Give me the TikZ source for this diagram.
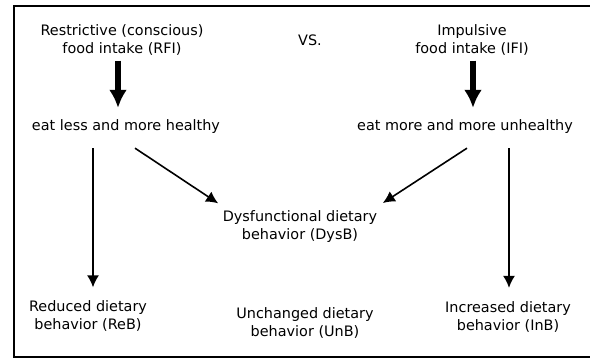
\documentclass[tikz,border=0pt]{standalone}
\usepackage{fontspec}
\setmainfont{DejaVu Sans}
\usepackage{tikz}
\usetikzlibrary{arrows.meta, positioning}

\begin{document}
\begin{tikzpicture}[x=1pt, y=1pt, >={Latex[length=12pt,width=12pt]},
    every node/.style={font=\fontsize{14.4}{18}\selectfont, align=center, inner sep=0pt},
    thinarrow/.style={->, line width=1.6pt},
    bigarrow/.style={-{Latex[length=18pt,width=18pt]}, line width=6pt}]
    \useasboundingbox (0,0) rectangle (590,358);
    \draw[line width=2pt] (592,352) -| (14.3,1) -- (592,1);

    \node (rfi) at (122,318) {Restrictive (conscious)\\food intake (RFI)};
    \node (vs) at (310,318) {VS.};
    \node (ifi) at (472,318) {Impulsive\\food intake (IFI)};
    \node (less) at (126,231) {eat less and more healthy};
    \node (more) at (465,231) {eat more and more unhealthy};
    \node (dysb) at (300,131.5) {Dysfunctional dietary\\behavior (DysB)};
    \node (reb) at (88,42) {Reduced dietary\\behavior (ReB)};
    \node (unb) at (305,35) {Unchanged dietary\\behavior (UnB)};
    \node (inb) at (508,41.5) {Increased dietary\\behavior (InB)};

    \draw[bigarrow] ([xshift=-4pt,yshift=-5pt]rfi.south) -- ([xshift=-8pt,yshift=12pt]less.north);
    \draw[bigarrow] ([xshift=1pt,yshift=-5pt]ifi.south) -- ([xshift=8pt,yshift=12pt]more.north);

    \draw[thinarrow] ([xshift=-33pt,yshift=-14pt]less.south) -- ([xshift=5pt,yshift=13pt]reb.north);
    \draw[thinarrow] ([xshift=9pt,yshift=-14pt]less.south) -- ([xshift=-4.5pt,yshift=7pt]dysb.north west);
    \draw[thinarrow] ([xshift=2pt,yshift=-14pt]more.south) -- ([xshift=5.5pt,yshift=7.3pt]dysb.north east);
    \draw[thinarrow] ([xshift=44pt,yshift=-14pt]more.south) -- ([xshift=1pt,yshift=13pt]inb.north);
\end{tikzpicture}
\end{document}
